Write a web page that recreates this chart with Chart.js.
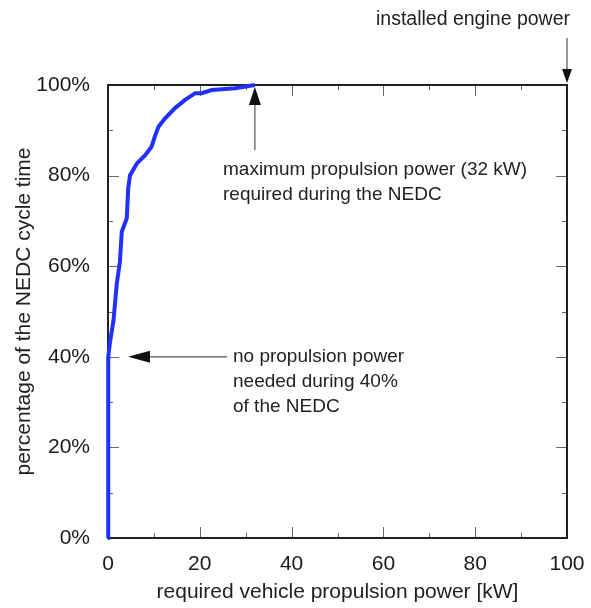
<!DOCTYPE html>
<html>
<head>
<meta charset="utf-8">
<script src="https://cdn.jsdelivr.net/npm/chart.js@4"></script>
<style>
html,body{margin:0;padding:0;background:#fff;}
#wrap{width:591px;height:608px;position:relative;}
</style>
</head>
<body>
<div id="wrap"><canvas id="c" width="591" height="608"></canvas></div>
<script>
// Data
const powerKW = [0, 0, 0.1, 0.4, 1.2, 1.9, 2.6, 3.0, 4.1, 4.4, 4.8, 6.3, 8.1, 9.5, 10.2, 11.0, 12.4, 14.6, 16.8, 19.0, 20.4, 22.6, 27.7, 32];
const timePct = [0, 38, 40, 43, 48, 56, 61, 67.6, 70.6, 77.2, 80.1, 82.7, 84.5, 86.4, 88.6, 90.8, 92.6, 94.9, 96.7, 98.2, 98.2, 98.9, 99.3, 100];
const xTicks = [0, 20, 40, 60, 80, 100];
const yTicks = [0, 20, 40, 60, 80, 100];
const maxPowerKW = 32;
const installedKW = 100;
const zeroShare = 40;

const FONT = '"Liberation Sans", Arial, Helvetica, sans-serif';
const points = powerKW.map((x, i) => ({x: x, y: timePct[i]}));

function arrowHead(ctx, tx, ty, dir, len, half) {
  ctx.beginPath();
  if (dir === 'up') { ctx.moveTo(tx, ty); ctx.lineTo(tx - half, ty + len); ctx.lineTo(tx + half, ty + len); }
  else if (dir === 'down') { ctx.moveTo(tx, ty); ctx.lineTo(tx - half, ty - len); ctx.lineTo(tx + half, ty - len); }
  else if (dir === 'left') { ctx.moveTo(tx, ty); ctx.lineTo(tx + len, ty - half); ctx.lineTo(tx + len, ty + half); }
  ctx.closePath();
  ctx.fill();
}

const framePlugin = {
  id: 'frame',
  beforeDatasetsDraw(chart) {
    const {ctx, chartArea: a, scales: {x, y}} = chart;
    ctx.save();
    ctx.strokeStyle = '#666';
    ctx.lineWidth = 1;
    for (let v = 0; v <= 100; v += 10) {
      const major = v % 20 === 0;
      const L = major ? 11 : 5;
      const px = Math.round(x.getPixelForValue(v)) + 0.5;
      ctx.beginPath();
      ctx.moveTo(px, a.bottom); ctx.lineTo(px, a.bottom - L);
      ctx.moveTo(px, a.top); ctx.lineTo(px, a.top + L);
      ctx.stroke();
      const py = Math.round(y.getPixelForValue(v)) + 0.5;
      ctx.beginPath();
      ctx.moveTo(a.left, py); ctx.lineTo(a.left + L, py);
      ctx.moveTo(a.right, py); ctx.lineTo(a.right - L, py);
      ctx.stroke();
    }
    ctx.strokeStyle = '#222';
    ctx.lineWidth = 2;
    ctx.strokeRect(a.left, a.top, a.right - a.left, a.bottom - a.top);
    ctx.restore();
  },
  afterDatasetsDraw(chart) {
    const {ctx, chartArea: a, scales: {x, y}} = chart;
    ctx.save();
    ctx.fillStyle = '#111';
    ctx.strokeStyle = '#555';
    ctx.lineWidth = 1.2;
    // installed engine power arrow
    const xi = x.getPixelForValue(installedKW);
    ctx.beginPath(); ctx.moveTo(xi, 38); ctx.lineTo(xi, a.top - 10); ctx.stroke();
    arrowHead(ctx, xi, a.top - 2, 'down', 14, 5);
    // max power arrow
    const xm = x.getPixelForValue(maxPowerKW);
    ctx.beginPath(); ctx.moveTo(xm, 150); ctx.lineTo(xm, a.top + 10); ctx.stroke();
    arrowHead(ctx, xm, a.top + 2, 'up', 18, 6);
    // zero-power arrow
    const y40 = y.getPixelForValue(zeroShare);
    ctx.beginPath(); ctx.moveTo(227, y40); ctx.lineTo(a.left + 30, y40); ctx.stroke();
    arrowHead(ctx, a.left + 20, y40, 'left', 22, 6);
    // texts
    ctx.fillStyle = '#222';
    ctx.textBaseline = 'middle';
    ctx.textAlign = 'right';
    ctx.font = '19.5px ' + FONT;
    ctx.fillText('installed engine power', xi + 3, 20);
    ctx.textAlign = 'left';
    ctx.font = '19px ' + FONT;
    ctx.fillText('maximum propulsion power (32 kW)', 223, 170);
    ctx.fillText('required during the NEDC', 223, 195);
    ctx.fillText('no propulsion power', 233, 357);
    ctx.fillText('needed during 40%', 233, 382);
    ctx.fillText('of the NEDC', 233, 407);
    ctx.restore();
  }
};

new Chart(document.getElementById('c'), {
  type: 'scatter',
  data: {
    datasets: [{
      data: points,
      showLine: true,
      borderColor: '#2230ff',
      borderWidth: 4,
      pointRadius: 0,
      fill: false,
      tension: 0,
      clip: false
    }]
  },
  plugins: [framePlugin],
  options: {
    responsive: false,
    animation: false,
    devicePixelRatio: 1,
    layout: {padding: {left: 0, right: 24, top: 85, bottom: 0}},
    plugins: {legend: {display: false}, tooltip: {enabled: false}},
    scales: {
      x: {
        type: 'linear', min: 0, max: 100,
        afterFit(s) { s.height = 70; s.paddingLeft = 0; s.paddingRight = 0; },
        afterBuildTicks(s) { s.ticks = xTicks.map(v => ({value: v})); },
        grid: {display: false, drawTicks: false},
        border: {display: false},
        ticks: {padding: 14, color: '#1a1a1a', font: {family: FONT, size: 21}},
        title: {display: true, text: 'required vehicle propulsion power [kW]', color: '#222',
                font: {family: FONT, size: 21}, padding: {top: 0, bottom: 3}}
      },
      y: {
        type: 'linear', min: 0, max: 100,
        afterFit(s) { s.width = 108; s.paddingTop = 0; s.paddingBottom = 0; },
        afterBuildTicks(s) { s.ticks = yTicks.map(v => ({value: v})); },
        grid: {display: false, drawTicks: false},
        border: {display: false},
        ticks: {padding: 18, color: '#1a1a1a', font: {family: FONT, size: 21},
                callback: v => v + '%'},
        title: {display: true, text: 'percentage of the NEDC cycle time', color: '#222',
                font: {family: FONT, size: 21}, padding: {top: 12, bottom: 0}}
      }
    }
  }
});
</script>
</body>
</html>
